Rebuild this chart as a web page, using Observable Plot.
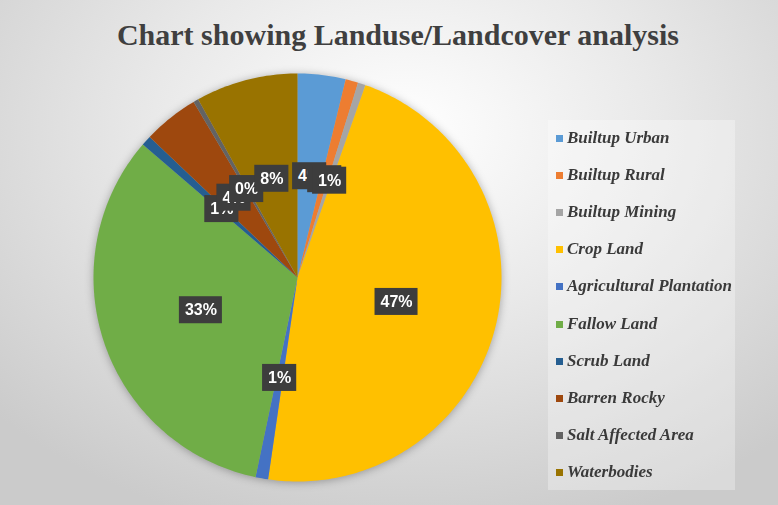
<!DOCTYPE html>
<html>
<head>
<meta charset="utf-8">
<script src="https://cdn.jsdelivr.net/npm/d3@7"></script>
<script src="https://cdn.jsdelivr.net/npm/@observablehq/plot@0.6"></script>
<style>
  html, body { margin: 0; padding: 0; }
  #page {
    position: relative; width: 778px; height: 505px; overflow: hidden;
    background: radial-gradient(ellipse 72% 82% at 52% 26%, #ffffff 0%, #e9e9e9 45%, #cbcbcb 100%);
  }
  #title {
    position: absolute; left: 9px; top: 0; width: 778px; height: 62px;
    text-align: center; font-family: "Liberation Serif", "Times New Roman", serif;
    font-weight: bold; font-size: 30px; line-height: 30px; padding-top: 20px; box-sizing: border-box;
    color: #3f3f3f;
  }
  #chart { position: absolute; left: 0; top: 62px; }
  #chart svg { filter: drop-shadow(0 1px 4px rgba(0,0,0,0.3)); background: none; }
  #legend {
    position: absolute; left: 548px; top: 120px; width: 187px; height: 370px;
    background: rgba(255,255,255,0.3);
  }
  .item {
    position: absolute; left: 0; height: 20px; line-height: 20px; white-space: nowrap;
    font-family: "Liberation Serif", "Times New Roman", serif; font-style: italic; font-weight: bold;
    font-size: 17px; color: #3a3a3a;
  }
  .sw { position: absolute; left: 8px; top: 7px; width: 7px; height: 7px; }
  .lbl { position: absolute; left: 19px; top: 0; }
</style>
</head>
<body>
<div id="page">
  <div id="title">Chart showing Landuse/Landcover analysis</div>
  <div id="chart"></div>
  <div id="legend"></div>
</div>
<script>
const names = ["Builtup Urban", "Builtup Rural", "Builtup Mining", "Crop Land", "Agricultural Plantation",
               "Fallow Land", "Scrub Land", "Barren Rocky", "Salt Affected Area", "Waterbodies"];
const values = [3.8, 1.0, 0.6, 46.9, 1.0, 33.0, 0.8, 4.4, 0.4, 8.1];
const colors = ["#5B9BD5", "#ED7D31", "#A5A5A5", "#FFC000", "#4472C4",
                "#70AD47", "#255E91", "#9E480E", "#636363", "#997300"];

const pxPerUnit = 204;
const arcs = d3.pie().sort(null).value(d => d)(values);
const slicePts = [];
arcs.forEach((a, i) => {
  slicePts.push({name: names[i], x: 0, y: 0});
  const n = Math.max(2, Math.ceil((a.endAngle - a.startAngle) / (Math.PI / 180)));
  for (let k = 0; k <= n; k++) {
    const t = a.startAngle + (a.endAngle - a.startAngle) * k / n;
    slicePts.push({name: names[i], x: Math.sin(t), y: Math.cos(t)});
  }
});

function textWidth(s) {
  let w = 0;
  for (const c of s) w += c === "%" ? 0.889 : 0.556;
  return w * 16;
}
const labels = arcs.map((a, i) => {
  const m = (a.startAngle + a.endAngle) / 2;
  const x = 0.5 * Math.sin(m), y = 0.5 * Math.cos(m);
  const text = Math.round(values[i]) + "%";
  const hw = (textWidth(text) + 11) / 2 / pxPerUnit, hh = 13.5 / pxPerUnit;
  return {name: names[i], x, y, text, x1: x - hw, x2: x + hw, y1: y - hh, y2: y + hh};
});

const chart = Plot.plot({
  width: 778, height: 443, margin: 0,
  style: {background: "none", overflow: "visible"},
  x: {domain: [-1, 1], range: [93, 501], axis: null},
  y: {domain: [-1, 1], range: [419, 11], axis: null},
  color: {domain: names, range: colors},
  marks: [
    Plot.line(slicePts, {x: "x", y: "y", z: "name", fill: "name", stroke: "none", curve: "linear-closed"}),
    ...labels.flatMap(l => [
      Plot.rect([l], {x1: "x1", x2: "x2", y1: "y1", y2: "y2", fill: "#3d3d3d"}),
      Plot.text([l], {x: "x", y: "y", text: "text", fill: "white", fontWeight: "bold", fontSize: 16,
                      fontFamily: "Liberation Sans, Arial, sans-serif"})
    ])
  ]
});
document.getElementById("chart").appendChild(chart);

const legend = document.getElementById("legend");
names.forEach((n, i) => {
  const it = document.createElement("div");
  it.className = "item";
  it.style.top = (8 + i * 37.1) + "px";
  const sw = document.createElement("div");
  sw.className = "sw"; sw.style.background = colors[i];
  const lb = document.createElement("div");
  lb.className = "lbl"; lb.textContent = n;
  it.appendChild(sw); it.appendChild(lb);
  legend.appendChild(it);
});
</script>
</body>
</html>
